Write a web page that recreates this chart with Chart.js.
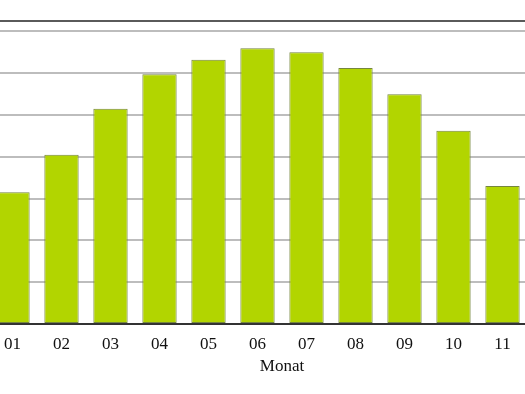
<!DOCTYPE html>
<html>
<head>
<meta charset="utf-8">
<script src="https://cdn.jsdelivr.net/npm/chart.js@4"></script>
<style>
  html, body { margin: 0; padding: 0; background: #fff; overflow: hidden; }
  #wrap { position: relative; width: 525px; height: 394px; overflow: hidden; }
  #holder { position: absolute; left: -72px; top: 0; width: 700px; height: 394px; }
</style>
</head>
<body>
<div id="wrap">
  <div id="holder"><canvas id="mychart" width="700" height="394"></canvas></div>
</div>
<script>
// monthly values (one grid step = 2)
var months = ["01", "02", "03", "04", "05", "06", "07", "08", "09", "10", "11", "12"];
var values = [6.3, 8.1, 10.3, 11.95, 12.65, 13.2, 13.0, 12.25, 11.0, 9.25, 6.6, 5.7];
var yTicks = [0, 2, 4, 6, 8, 10, 12, 14, 14.5];
var axisTitle = "Monat";

(function() {
  var serif = "'Liberation Serif', 'DejaVu Serif', serif";

  var context = document.getElementById("mychart").getContext("2d");
  var chart = new Chart(context, {
    type: 'bar',
    data: {
      labels: months,
      datasets: [{
        data: values,
        backgroundColor: "#b2d500",
        borderColor: "#76863e",
        borderWidth: 1,
        borderSkipped: false,
        categoryPercentage: 1.0,
        barPercentage: 0.7
      }]
    },
    options: {
      responsive: false,
      animation: false,
      layout: { padding: { top: 21, right: 52, bottom: 15, left: 0 } },
      plugins: { legend: { display: false }, tooltip: { enabled: false } },
      scales: {
        x: {
          grid: { display: false },
          border: { color: "#333", width: 2 },
          ticks: { color: "#111", padding: 2, font: { family: serif, size: 17 } },
          title: { display: true, text: axisTitle, color: "#111", padding: { top: 4, bottom: 2 }, font: { family: serif, size: 17 } },
          afterFit: function(s) { s.height = 55; }
        },
        y: {
          min: 0,
          max: 14.5,
          ticks: { display: false },
          afterBuildTicks: function(s) { s.ticks = yTicks.map(function(v) { return { value: v }; }); },
          border: { display: false },
          grid: {
            drawTicks: false,
            lineWidth: 2,
            color: function(ctx) { return ctx.tick && ctx.tick.value === 14.5 ? "#5a5a5a" : "#bdbdbd"; }
          },
          afterFit: function(s) { s.width = 60; }
        }
      }
    }
  });
})();
</script>
</body>
</html>
